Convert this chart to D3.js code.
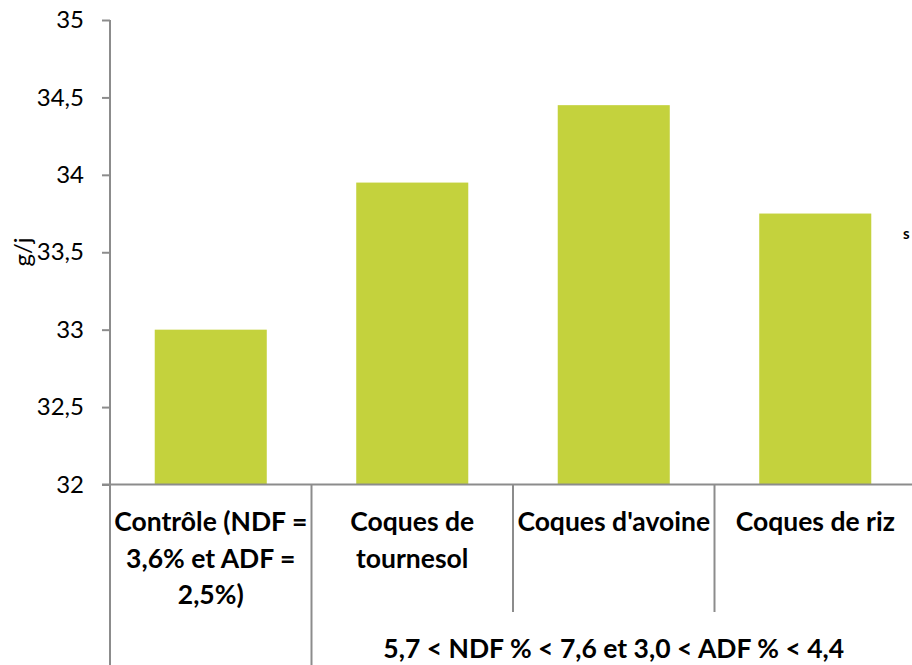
<!DOCTYPE html>
<html>
<head>
<meta charset="utf-8">
<script src="https://cdn.jsdelivr.net/npm/d3@7"></script>
<style>
  body { margin: 0; background: #fff; }
  svg { font-family: Lato, "Open Sans", sans-serif; }
</style>
</head>
<body>
<svg width="912" height="665"></svg>
<script>
// data
const categories = ['Contrôle (NDF = |3,6% et ADF = |2,5%)', 'Coques de |tournesol', "Coques d'avoine", 'Coques de riz'];
const values = [33.0, 33.95, 34.45, 33.75];
const yTicks = [32, 32.5, 33, 33.5, 34, 34.5, 35];
const groupLabels = ['', '5,7 < NDF % < 7,6 et 3,0 < ADF % < 4,4'];
const groupSpans = [1, 3];

const svg = d3.select('svg');
const axisColor = '#8c8c8c';

const x = d3.scaleBand()
  .domain(categories)
  .range([110, 916])
  .paddingInner(0.444)
  .paddingOuter(0.222);

const y = d3.scaleLinear()
  .domain([32, 35])
  .range([484.5, 20]);

// bars
svg.selectAll('.bar')
  .data(values)
  .enter()
  .append('rect')
  .attr('x', (d, i) => x(categories[i]))
  .attr('width', x.bandwidth())
  .attr('y', d => y(d))
  .attr('height', d => y(32) - y(d))
  .attr('fill', '#c4d23d');

// y axis
const yAxis = svg.append('g')
  .attr('transform', 'translate(110,0)')
  .call(d3.axisLeft(y).tickValues(yTicks).tickSize(8).tickPadding(18)
    .tickFormat(d => String(d).replace('.', ',')));
yAxis.select('.domain').remove();
yAxis.selectAll('line').attr('stroke', axisColor).attr('stroke-width', 2);
yAxis.selectAll('text').attr('fill', '#000').style('font-size', '24px')
  .style('font-family', 'Lato, sans-serif');

// vertical axis line running down through the category area
svg.append('line')
  .attr('x1', 110).attr('x2', 110)
  .attr('y1', 20).attr('y2', 665)
  .attr('stroke', axisColor).attr('stroke-width', 2);

// category axis line
svg.append('line')
  .attr('x1', 102).attr('x2', 916)
  .attr('y1', 484.5).attr('y2', 484.5)
  .attr('stroke', axisColor).attr('stroke-width', 2);

// separators between categories
const step = x.step();
const x0 = x.range()[0];
const groupEnds = d3.cumsum(groupSpans);
d3.range(1, categories.length).forEach(i => {
  const isGroupEdge = groupEnds.includes(i);
  svg.append('line')
    .attr('x1', x0 + i * step).attr('x2', x0 + i * step)
    .attr('y1', 484.5).attr('y2', isGroupEdge ? 665 : 612)
    .attr('stroke', axisColor).attr('stroke-width', 2);
});

// category labels
categories.forEach((c, i) => {
  const lines = c.split('|');
  const t = svg.append('text')
    .attr('text-anchor', 'middle')
    .attr('font-weight', 'bold')
    .attr('font-size', 26.5)
    .attr('fill', '#000');
  lines.forEach((l, j) => {
    t.append('tspan')
      .attr('x', x0 + (i + 0.5) * step)
      .attr('y', 531 + j * 36.5)
      .text(l.trim());
  });
});

// group labels
let start = 0;
groupLabels.forEach((g, k) => {
  const mid = x0 + (start + groupSpans[k] / 2) * step;
  svg.append('text')
    .attr('x', mid).attr('y', 658)
    .attr('text-anchor', 'middle')
    .attr('font-weight', 'bold')
    .attr('font-size', 26.5)
    .text(g);
  start += groupSpans[k];
});

// y title
svg.append('text')
  .attr('transform', 'translate(31,252) rotate(-90)')
  .attr('text-anchor', 'middle')
  .attr('font-size', 24)
  .text('g/j');

// fragment of the legend at the right edge
svg.append('text')
  .attr('x', 903).attr('y', 239)
  .attr('font-weight', 'bold')
  .attr('font-size', 15)
  .text('s');
</script>
</body>
</html>
